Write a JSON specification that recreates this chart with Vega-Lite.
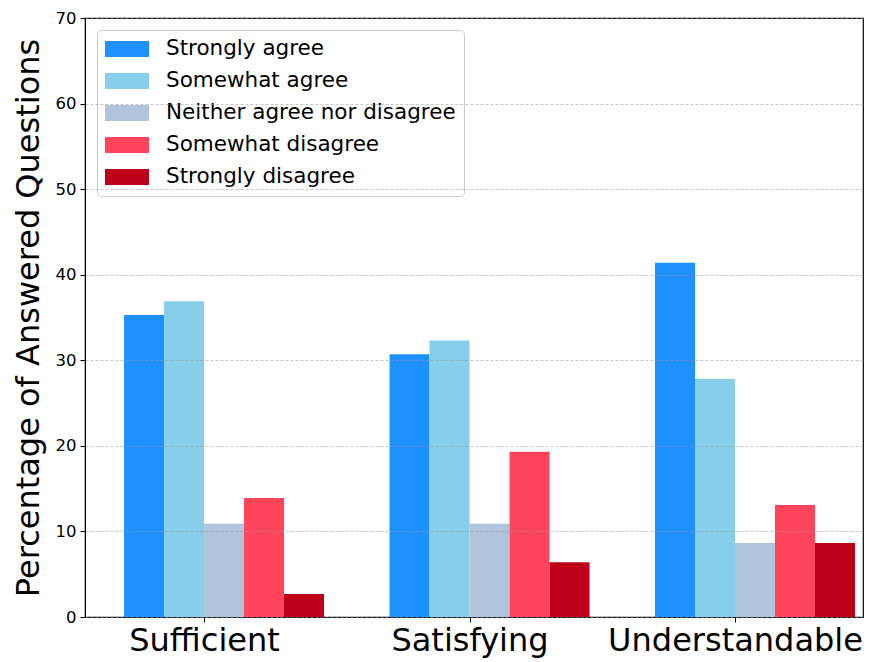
{
  "$schema": "https://vega.github.io/schema/vega-lite/v6.json",
  "width": 778,
  "height": 599,
  "autosize": {"type": "none"},
  "padding": {"left": 85, "top": 18, "right": 14, "bottom": 45},
  "background": "white",
  "config": {
    "font": "DejaVu Sans",
    "view": {"stroke": "black", "strokeWidth": 1.2}
  },
  "data": {
    "values": [
      {"aspect": "Sufficient", "response": "Strongly agree", "pct": 35.3},
      {"aspect": "Sufficient", "response": "Somewhat agree", "pct": 36.9},
      {"aspect": "Sufficient", "response": "Neither agree nor disagree", "pct": 10.9},
      {"aspect": "Sufficient", "response": "Somewhat disagree", "pct": 13.9},
      {"aspect": "Sufficient", "response": "Strongly disagree", "pct": 2.7},
      {"aspect": "Satisfying", "response": "Strongly agree", "pct": 30.7},
      {"aspect": "Satisfying", "response": "Somewhat agree", "pct": 32.3},
      {"aspect": "Satisfying", "response": "Neither agree nor disagree", "pct": 10.9},
      {"aspect": "Satisfying", "response": "Somewhat disagree", "pct": 19.3},
      {"aspect": "Satisfying", "response": "Strongly disagree", "pct": 6.4},
      {"aspect": "Understandable", "response": "Strongly agree", "pct": 41.4},
      {"aspect": "Understandable", "response": "Somewhat agree", "pct": 27.8},
      {"aspect": "Understandable", "response": "Neither agree nor disagree", "pct": 8.65},
      {"aspect": "Understandable", "response": "Somewhat disagree", "pct": 13.1},
      {"aspect": "Understandable", "response": "Strongly disagree", "pct": 8.65}
    ]
  },
  "mark": {"type": "bar"},
  "encoding": {
    "x": {
      "field": "aspect",
      "type": "nominal",
      "sort": ["Sufficient", "Satisfying", "Understandable"],
      "scale": {"paddingInner": 0.2467, "paddingOuter": 0.0886, "align": 0.83},
      "axis": {
        "title": null,
        "labelAngle": 0,
        "labelFontSize": 32,
        "labelLimit": 400,
        "labelColor": "black",
        "tickColor": "black",
        "domainColor": "black",
        "tickOffset": -20,
        "tickSize": 5,
        "labelPadding": 3,
        "grid": false
      }
    },
    "xOffset": {
      "field": "response",
      "type": "nominal",
      "sort": ["Strongly agree", "Somewhat agree", "Neither agree nor disagree", "Somewhat disagree", "Strongly disagree"],
      "scale": {"paddingInner": 0, "paddingOuter": 0}
    },
    "y": {
      "field": "pct",
      "type": "quantitative",
      "scale": {"domain": [0, 70], "nice": false},
      "axis": {
        "title": "Percentage of Answered Questions",
        "titleFontSize": 32,
        "titleFontWeight": "normal",
        "titleColor": "black",
        "titlePadding": 10,
        "values": [0, 10, 20, 30, 40, 50, 60, 70],
        "labelFontSize": 16.5,
        "labelColor": "black",
        "tickColor": "black",
        "tickSize": 5,
        "labelPadding": 4,
        "domainColor": "black",
        "gridDash": [3, 2],
        "gridColor": "#999999",
        "gridOpacity": 0.7,
        "gridWidth": 0.8,
        "zindex": 1
      }
    },
    "color": {
      "field": "response",
      "type": "nominal",
      "sort": ["Strongly agree", "Somewhat agree", "Neither agree nor disagree", "Somewhat disagree", "Strongly disagree"],
      "scale": {
        "domain": ["Strongly agree", "Somewhat agree", "Neither agree nor disagree", "Somewhat disagree", "Strongly disagree"],
        "range": ["#1E90FF", "#87CEEB", "#B0C4DE", "#FF455B", "#BE0019"]
      },
      "legend": {
        "title": null,
        "orient": "none",
        "legendX": 12,
        "legendY": 12,
        "labelFontSize": 21.5,
        "labelColor": "black",
        "labelLimit": 500,
        "symbolType": "M-1,-0.72L3,-0.72L3,0.72L-1,0.72Z",
        "symbolSize": 484,
        "symbolStrokeWidth": 0,
        "symbolOpacity": 1,
        "labelOffset": 39,
        "rowPadding": 10,
        "padding": 8,
        "fillColor": "white",
        "strokeColor": "#cccccc",
        "cornerRadius": 4
      }
    }
  }
}
